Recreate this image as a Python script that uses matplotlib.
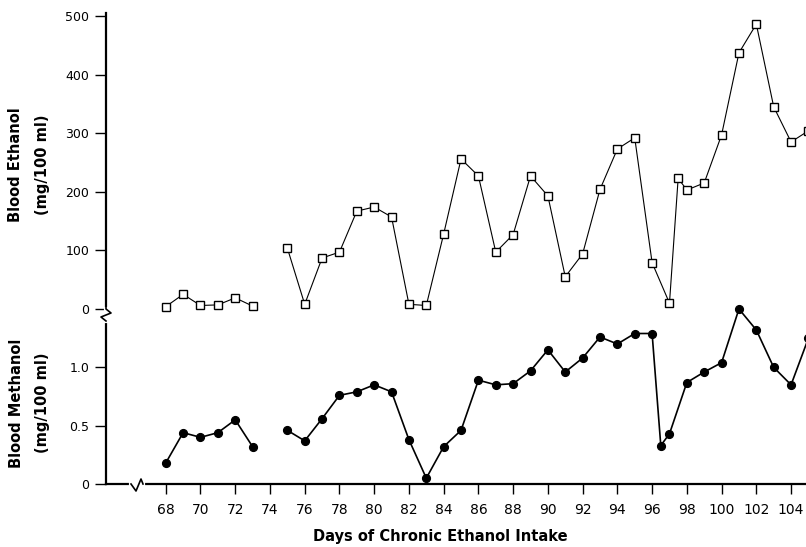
import numpy as np
import matplotlib
matplotlib.use("Agg")
import matplotlib.pyplot as plt
from matplotlib.lines import Line2D

nan = np.nan

# blood ethanol (mg/100 ml), open squares
days_eth = [68, 69, 70, 71, 72, 73, 74, 75, 76, 77, 78, 79, 80, 81, 82, 83, 84, 85,
            86, 87, 88, 89, 90, 91, 92, 93, 94, 95, 96, 97, 97.5, 98, 99, 100, 101,
            102, 103, 104, 105]
ethanol = [4, 25, 6, 7, 19, 5, nan, 104, 8, 87, 97, 167, 174, 157, 8, 6, 128, 256,
           227, 97, 127, 227, 193, 55, 94, 204, 273, 292, 79, 10, 223, 203, 215, 297, 437,
           486, 345, 285, 304]

# blood methanol (mg/100 ml), filled circles
days_meth = [68, 69, 70, 71, 72, 73, 74, 75, 76, 77, 78, 79, 80, 81, 82, 83, 84, 85,
             86, 87, 88, 89, 90, 91, 92, 93, 94, 95, 96, 96.5, 97, 98, 99, 100, 101,
             102, 103, 104, 105]
methanol = [0.18, 0.44, 0.40, 0.44, 0.55, 0.32, nan, 0.46, 0.37, 0.56, 0.76, 0.79, 0.85,
            0.79, 0.38, 0.05, 0.32, 0.46, 0.89, 0.85, 0.86, 0.97, 1.15, 0.96, 1.08, 1.26,
            1.20, 1.29, 1.29, 0.33, 0.43, 0.87, 0.96, 1.04, 1.50, 1.32, 1.00, 0.85, 1.25]

xticks = list(range(68, 105, 2))
eth_ticks = [0, 100, 200, 300, 400, 500]
meth_ticks = [0, 0.5, 1.0]
meth_labels = ["0", "0.5", "1.0"]

W, H = 806, 547
fig = plt.figure(figsize=(W / 100, H / 100), dpi=100)

def fx(x):
    return x / W

def fy(y):
    return 1 - y / H

left, right = 106, 806
ax_top = fig.add_axes([fx(left), fy(309), fx(right - left), (309 - 13) / H])
ax_bot = fig.add_axes([fx(left), fy(484), fx(right - left), (484 - 309) / H], sharex=ax_top)

xlim = (64.56, 104.86)

ax_top.plot(days_eth, ethanol, color="black", lw=0.8, marker="s", ms=5.2,
            mfc="white", mec="black", mew=1.0, clip_on=False)
ax_bot.plot(days_meth, methanol, color="black", lw=1.2, marker="o", ms=5.6,
            mfc="black", mec="black", clip_on=False)

ax_top.set_xlim(*xlim)
ax_top.set_ylim(0, 505)
ax_bot.set_ylim(0, 1.5)

for ax in (ax_top, ax_bot):
    ax.spines["top"].set_visible(False)
    ax.spines["right"].set_visible(False)
    ax.spines["left"].set_linewidth(1.6)
    ax.patch.set_visible(False)
ax_top.spines["bottom"].set_visible(False)
ax_bot.spines["bottom"].set_linewidth(1.6)

ax_top.set_yticks(eth_ticks)
ax_top.set_yticklabels([str(t) for t in eth_ticks])
ax_top.tick_params(axis="x", bottom=False, labelbottom=False)
ax_top.tick_params(axis="y", direction="out", length=8, width=1.0, pad=4, labelsize=9)

ax_bot.set_yticks(meth_ticks)
ax_bot.set_yticklabels(meth_labels)
ax_bot.tick_params(axis="y", direction="out", length=8, width=1.0, pad=4, labelsize=9)
ax_bot.set_xticks(xticks)
ax_bot.set_xticklabels([str(t) for t in xticks],
                       fontfamily=["Liberation Sans Narrow", "DejaVu Sans"], fontsize=10)
ax_bot.tick_params(axis="x", direction="out", length=7, width=1.0, pad=7)

# axis titles
lab = dict(rotation=90, ha="center", va="center", fontsize=10.5, fontweight="bold")
fig.text(fx(16), fy(165), "Blood Ethanol", **lab)
fig.text(fx(42), fy(165), "(mg/100 ml)", **lab)
fig.text(fx(17), fy(403), "Blood Methanol", **lab)
fig.text(fx(43), fy(403), "(mg/100 ml)", **lab)
fig.text(fx(440), fy(537), "Days of Chronic Ethanol Intake", ha="center", va="center",
         fontsize=10.5, fontweight="bold")

# break marks on the axes
def seg(xs, ys, **kw):
    fig.add_artist(Line2D([fx(x) for x in xs], [fy(y) for y in ys],
                          transform=fig.transFigure, **kw))

seg([106, 106], [309, 321], color="white", lw=3, zorder=5)
seg([106, 106, 111, 101, 106], [305, 309, 313, 317, 321], color="black", lw=1.2, zorder=6)
seg([131, 143], [484, 484], color="white", lw=3, zorder=5)
seg([131, 136, 141, 143], [484, 491, 479, 484], color="black", lw=1.2, zorder=6)

fig.savefig("out.png", dpi=100)
